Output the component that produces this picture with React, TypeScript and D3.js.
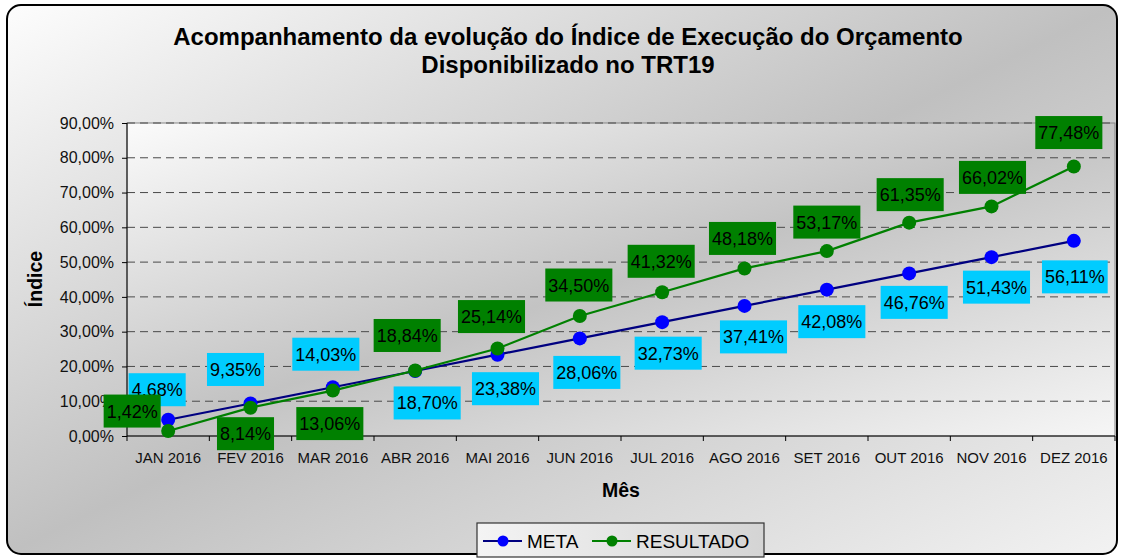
import React, { useEffect, useRef } from "react";
import * as d3 from "d3";

// Chart values
const months = [
    "JAN 2016",
    "FEV 2016",
    "MAR 2016",
    "ABR 2016",
    "MAI 2016",
    "JUN 2016",
    "JUL 2016",
    "AGO 2016",
    "SET 2016",
    "OUT 2016",
    "NOV 2016",
    "DEZ 2016",
];
const meta = [4.68, 9.35, 14.03, 18.7, 23.38, 28.06, 32.73, 37.41, 42.08, 46.76, 51.43, 56.11];
const resultado = [1.42, 8.14, 13.06, 18.84, 25.14, 34.5, 41.32, 48.18, 53.17, 61.35, 66.02, 77.48];
const yTicks = [0, 10, 20, 30, 40, 50, 60, 70, 80, 90];

// where each data label sits relative to its point (px)
const metaLabelOffsets = [
    [-11, -30], [-15, -34], [-7, -33], [12, 32], [8, 34], [7, 34],
    [6, 31], [9, 31], [5, 32], [5, 29], [5, 30], [1, 36],
];
const resultadoLabelOffsets = [
    [-36, -20], [-5, 26], [-3, 33], [-8, -35], [-6, -32], [-1, -31],
    [-1, -31], [-2, -30], [0, -29], [1, -28], [1, -29], [-5, -34],
];

const FONT = "'Liberation Sans', Arial, sans-serif";
const fmt = (v: number) => v.toFixed(2).replace(".", ",") + "%";

const App: React.FC = () => {
    const svgRef = useRef<SVGSVGElement>(null);

    const W = 1122;
    const H = 559;
    const margin = { top: 123, right: 7, bottom: 123, left: 127 };
    const width = 1115 - margin.left;
    const height = 436 - margin.top;

    useEffect(() => {
        if (!svgRef.current) return;
        const svg = d3.select(svgRef.current);
        svg.selectAll("*").remove();

        // gradients
        const defs = svg.append("defs");
        const mkGrad = (id: string, stops: [number, string][], x2 = 1, y2 = 1) => {
            const g = defs
                .append("linearGradient")
                .attr("id", id)
                .attr("x1", 0)
                .attr("y1", 0)
                .attr("x2", x2)
                .attr("y2", y2);
            stops.forEach(([o, c]) => g.append("stop").attr("offset", o).attr("stop-color", c));
        };
        mkGrad("bgGrad", [[0, "#fdfdfd"], [0.5, "#c0c0c0"], [1, "#f2f2f2"]]);
        mkGrad("plotGrad", [[0, "#fbfbfb"], [0.5, "#c3c3c3"], [1, "#f6f6f6"]]);
        mkGrad("legGrad", [[0, "#f4f4f4"], [1, "#d4d4d4"]], 1, 0);

        // chart frame
        svg.append("rect")
            .attr("x", 7)
            .attr("y", 5)
            .attr("width", 1110)
            .attr("height", 549)
            .attr("rx", 14)
            .attr("fill", "url(#bgGrad)")
            .attr("stroke", "#000")
            .attr("stroke-width", 2);

        // title
        const title = svg.append("text")
            .attr("x", 568)
            .attr("text-anchor", "middle")
            .attr("font-family", FONT)
            .attr("font-size", 24)
            .attr("font-weight", "bold")
            .attr("fill", "#000");
        title.append("tspan").attr("x", 568).attr("y", 45)
            .text("Acompanhamento da evolução do Índice de Execução do Orçamento");
        title.append("tspan").attr("x", 568).attr("y", 73)
            .text("Disponibilizado no TRT19");

        const xScale = d3.scaleBand().domain(months).range([0, width]).padding(0);
        const yScale = d3.scaleLinear().domain([0, 90]).range([height, 0]);
        const cx = (i: number) => (xScale(months[i]) || 0) + xScale.bandwidth() / 2;

        const g = svg.append("g").attr("transform", `translate(${margin.left},${margin.top})`);

        // plot area
        g.append("rect")
            .attr("width", width)
            .attr("height", height)
            .attr("fill", "url(#plotGrad)")
            .attr("stroke", "#858585")
            .attr("stroke-width", 1);

        // gridlines
        g.selectAll(".grid")
            .data(yTicks.filter((t) => t > 0))
            .enter()
            .append("line")
            .attr("x1", 0)
            .attr("x2", width)
            .attr("y1", (d) => yScale(d))
            .attr("y2", (d) => yScale(d))
            .attr("stroke", "#4a4a4a")
            .attr("stroke-width", 1)
            .attr("stroke-dasharray", "8,5");

        // y axis
        const yAxis = d3
            .axisLeft(yScale)
            .tickValues(yTicks)
            .tickSize(5)
            .tickPadding(8)
            .tickFormat((d) => fmt(d as number));
        const ya = g.append("g").call(yAxis);
        ya.select(".domain").attr("stroke", "#000").attr("d", `M0,0V${height}`);
        ya.selectAll("line").attr("stroke", "#000");
        ya.selectAll("text")
            .attr("font-family", FONT)
            .attr("font-size", 16)
            .attr("fill", "#111");

        // x axis
        const xa = g.append("g").attr("transform", `translate(0,${height})`);
        xa.append("line").attr("x1", 0).attr("x2", width).attr("stroke", "#000");
        xa.selectAll(".tk")
            .data([...months.map((m) => xScale(m) || 0), width])
            .enter()
            .append("line")
            .attr("x1", (d) => d)
            .attr("x2", (d) => d)
            .attr("y1", 0)
            .attr("y2", 5)
            .attr("stroke", "#000");
        xa.selectAll(".lbl")
            .data(months)
            .enter()
            .append("text")
            .attr("x", (_d, i) => cx(i))
            .attr("y", 27)
            .attr("text-anchor", "middle")
            .attr("font-family", FONT)
            .attr("font-size", 15)
            .attr("fill", "#111")
            .text((d) => d);

        // axis titles
        svg.append("text")
            .attr("transform", "translate(42,279) rotate(-90)")
            .attr("text-anchor", "middle")
            .attr("font-family", FONT)
            .attr("font-size", 19.5)
            .attr("font-weight", "bold")
            .text("Índice");
        svg.append("text")
            .attr("x", margin.left + width / 2)
            .attr("y", 497)
            .attr("text-anchor", "middle")
            .attr("font-family", FONT)
            .attr("font-size", 19.5)
            .attr("font-weight", "bold")
            .text("Mês");

        // series
        const series = [
            { values: meta, line: "#000080", dot: "#0000ff" },
            { values: resultado, line: "#008000", dot: "#008000" },
        ];
        series.forEach((s) => {
            const lineGen = d3
                .line<number>()
                .x((_d, i) => cx(i))
                .y((d) => yScale(d));
            g.append("path")
                .datum(s.values)
                .attr("d", lineGen)
                .attr("fill", "none")
                .attr("stroke", s.line)
                .attr("stroke-width", 2.2);
            g.selectAll(null)
                .data(s.values)
                .enter()
                .append("circle")
                .attr("cx", (_d, i) => cx(i))
                .attr("cy", (d) => yScale(d))
                .attr("r", 7)
                .attr("fill", s.dot);
        });

        // data labels
        const labels = [
            { values: meta, offs: metaLabelOffsets, fill: "#00ccff" },
            { values: resultado, offs: resultadoLabelOffsets, fill: "#008000" },
        ];
        labels.forEach((l) => {
            l.values.forEach((v, i) => {
                const x = cx(i) + l.offs[i][0];
                const y = yScale(v) + l.offs[i][1];
                const lg = g.append("g").attr("transform", `translate(${x},${y})`);
                const rect = lg.append("rect").attr("fill", l.fill);
                const t = lg.append("text")
                    .attr("text-anchor", "middle")
                    .attr("y", 6.5)
                    .attr("font-family", FONT)
                    .attr("font-size", 18)
                    .attr("fill", "#000")
                    .text(fmt(v));
                const tw = (t.node() as SVGTextElement).getComputedTextLength();
                rect.attr("x", -tw / 2 - 3)
                    .attr("y", -16.5)
                    .attr("width", tw + 6)
                    .attr("height", 33);
            });
        });

        // legend
        const leg = svg.append("g").attr("transform", "translate(477,523)");
        leg.append("rect")
            .attr("width", 287)
            .attr("height", 34)
            .attr("fill", "url(#legGrad)")
            .attr("stroke", "#333")
            .attr("stroke-width", 1.2);
        const legItems = [
            { name: "META", line: "#000080", dot: "#0000ff", x: 6, tx: 50 },
            { name: "RESULTADO", line: "#008000", dot: "#008000", x: 115, tx: 159 },
        ];
        legItems.forEach((it) => {
            leg.append("line")
                .attr("x1", it.x)
                .attr("x2", it.x + 39)
                .attr("y1", 18)
                .attr("y2", 18)
                .attr("stroke", it.line)
                .attr("stroke-width", 2.2);
            leg.append("circle")
                .attr("cx", it.x + 20)
                .attr("cy", 18)
                .attr("r", 5.5)
                .attr("fill", it.dot);
            leg.append("text")
                .attr("x", it.tx)
                .attr("y", 25)
                .attr("font-family", FONT)
                .attr("font-size", 19)
                .attr("fill", "#000")
                .text(it.name);
        });
    }, []);

    return (
        <div style={{ position: "absolute", left: 0, top: 0 }}>
            <svg ref={svgRef} width={W} height={H} style={{ display: "block" }} />
        </div>
    );
};

export default App;
